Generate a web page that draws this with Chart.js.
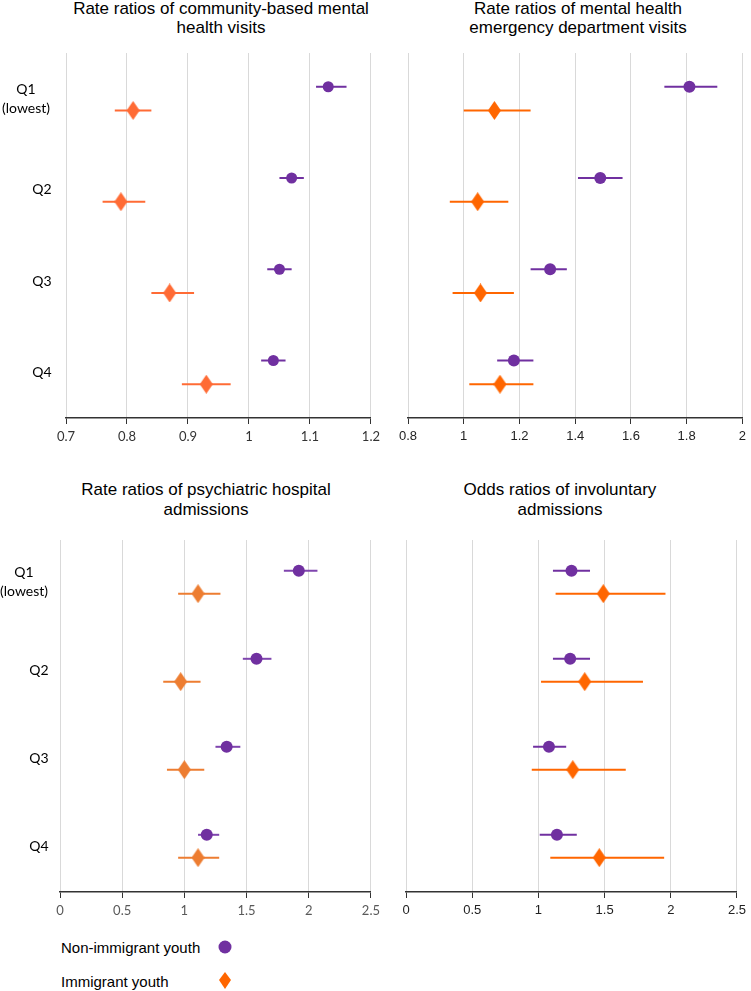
<!DOCTYPE html>
<html>
<head>
<meta charset="utf-8">
<script src="https://cdn.jsdelivr.net/npm/chart.js@4/dist/chart.umd.min.js"></script>
<style>
  body { margin: 0; background: #fff; width: 751px; height: 991px; position: relative; overflow: hidden; font-family: "Liberation Sans", Arial, sans-serif; }
  .box { position: absolute; }
  .title { position: absolute; width: 380px; text-align: center; color: #000; font-size: 17px; line-height: 19px; white-space: nowrap; }
  .legend { position: absolute; left: 61px; font-size: 15px; color: #000; }
</style>
</head>
<body>
<div class="title" style="left:31px; top:-1px;">Rate ratios of community-based mental<br>health visits</div>
<div class="title" style="left:388px; top:-1px;">Rate ratios of mental health<br>emergency department visits</div>
<div class="title" style="left:16px; top:480px; line-height:20px;">Rate ratios of psychiatric hospital<br>admissions</div>
<div class="title" style="left:370px; top:480px; line-height:20px;">Odds ratios of involuntary<br>admissions</div>

<div class="box" style="left:0; top:45px; width:385px; height:403px;"><canvas id="c1"></canvas></div>
<div class="box" style="left:390px; top:45px; width:361px; height:403px;"><canvas id="c2"></canvas></div>
<div class="box" style="left:0; top:532px; width:385px; height:390px;"><canvas id="c3"></canvas></div>
<div class="box" style="left:390px; top:532px; width:361px; height:390px;"><canvas id="c4"></canvas></div>

<div class="legend" style="top:939px;">Non-immigrant youth</div>
<div class="legend" style="top:973px;">Immigrant youth</div>
<svg class="box" style="left:210px; top:930px;" width="30" height="61">
  <circle cx="15" cy="17" r="6.5" fill="#7030A0"/>
  <polygon points="15,42 21,50 15,59 9,50" fill="#FF6600"/>
</svg>

<script>
// quintile labels
const categories = [['Q1', '(lowest)'], 'Q2', 'Q3', 'Q4'];

// community-based mental health visits
const cbNonImm = [1.13, 1.07, 1.05, 1.04];
const cbNonImmLo = [1.11, 1.05, 1.03, 1.02];
const cbNonImmHi = [1.16, 1.09, 1.07, 1.06];
const cbImm = [0.81, 0.79, 0.87, 0.93];
const cbImmLo = [0.78, 0.76, 0.84, 0.89];
const cbImmHi = [0.84, 0.83, 0.91, 0.97];

// mental health emergency department visits
const edNonImm = [1.81, 1.49, 1.31, 1.18];
const edNonImmLo = [1.72, 1.41, 1.24, 1.12];
const edNonImmHi = [1.91, 1.57, 1.37, 1.25];
const edImm = [1.11, 1.05, 1.06, 1.13];
const edImmLo = [1.00, 0.95, 0.96, 1.02];
const edImmHi = [1.24, 1.16, 1.18, 1.25];

// psychiatric hospital admissions
const hospNonImm = [1.92, 1.58, 1.34, 1.18];
const hospNonImmLo = [1.80, 1.47, 1.25, 1.11];
const hospNonImmHi = [2.07, 1.70, 1.45, 1.28];
const hospImm = [1.11, 0.97, 1.00, 1.11];
const hospImmLo = [0.95, 0.83, 0.86, 0.95];
const hospImmHi = [1.29, 1.13, 1.16, 1.28];

// involuntary admissions (odds ratios)
const invNonImm = [1.25, 1.24, 1.08, 1.14];
const invNonImmLo = [1.11, 1.11, 0.96, 1.01];
const invNonImmHi = [1.39, 1.39, 1.21, 1.29];
const invImm = [1.49, 1.35, 1.26, 1.46];
const invImmLo = [1.13, 1.02, 0.95, 1.09];
const invImmHi = [1.96, 1.79, 1.66, 1.95];

// x-axis ranges
const cbTicks = [0.7, 1.2, 0.1];
const edTicks = [0.8, 2, 0.2];
const hospTicks = [0, 2.5, 0.5];
const invTicks = [0, 2.5, 0.5];

const purple = '#7030A0';

// tall diamond marker
function makeDiamond(color) {
    const c = document.createElement('canvas');
    c.width = 13; c.height = 19;
    const g = c.getContext('2d');
    g.fillStyle = color;
    g.beginPath();
    g.moveTo(6.5, 0); g.lineTo(13, 9.5); g.lineTo(6.5, 19); g.lineTo(0, 9.5);
    g.closePath(); g.fill();
    return c;
}

// quintile names on the left, placed on the y scale's row centres
const categoryLabels = {
    id: 'categoryLabels',
    afterDraw(chart, args, o) {
        if (!o.show) return;
        const ctx = chart.ctx;
        const y = chart.scales.y;
        ctx.save();
        ctx.font = '14px Lato, sans-serif';
        ctx.fillStyle = '#000';
        ctx.textAlign = 'center';
        ctx.textBaseline = 'middle';
        categories.forEach((c, i) => {
            const py = y.getPixelForValue(i + 0.5);
            if (Array.isArray(c)) {
                ctx.fillText(c[0], o.multiX, py - 9.5);
                ctx.fillText(c[1], o.multiX, py + 9.5);
            } else {
                ctx.fillText(c, o.singleX, py);
            }
        });
        ctx.restore();
    }
};

function makePanel(id, est1, lo1, hi1, est2, lo2, hi2, range, opt) {
    const gap = opt.gap;
    const datasets = [];
    datasets.push({
        data: est1.map((v, i) => ({ x: v, y: i + 0.5 - gap })),
        pointStyle: 'circle', pointRadius: opt.r, backgroundColor: purple, borderWidth: 0, order: 0
    });
    datasets.push({
        data: est2.map((v, i) => ({ x: v, y: i + 0.5 + gap })),
        pointStyle: makeDiamond(opt.orange), pointRadius: 8, backgroundColor: opt.orange, borderWidth: 0, order: 0
    });
    // confidence interval segments
    for (let i = 0; i < 4; i++) {
        datasets.push({
            data: [{ x: lo1[i], y: i + 0.5 - gap }, { x: hi1[i], y: i + 0.5 - gap }],
            showLine: true, pointRadius: 0, borderColor: opt.purpleLine, borderWidth: 2, order: 1
        });
        datasets.push({
            data: [{ x: lo2[i], y: i + 0.5 + gap }, { x: hi2[i], y: i + 0.5 + gap }],
            showLine: true, pointRadius: 0, borderColor: opt.orange, borderWidth: 2, order: 1
        });
    }

    new Chart(document.getElementById(id), {
        type: 'scatter',
        data: { datasets },
        plugins: [categoryLabels],
        options: {
            responsive: true,
            maintainAspectRatio: false,
            animation: false,
            layout: { padding: { top: 5, right: opt.padRight, left: 0, bottom: 0 } },
            plugins: {
                legend: { display: false },
                tooltip: { enabled: false },
                categoryLabels: { show: opt.showCats, multiX: opt.multiX, singleX: opt.singleX }
            },
            scales: {
                x: {
                    type: 'linear',
                    min: range[0], max: range[1],
                    ticks: {
                        stepSize: range[2],
                        color: opt.tickColor,
                        padding: 5,
                        font: { family: opt.tickFont, size: 13 },
                        callback: v => +v.toFixed(2)
                    },
                    grid: { color: '#d9d9d9', lineWidth: 1, tickColor: '#333', tickLength: 6 },
                    border: { color: '#333', width: 1.5 },
                    afterFit: s => { s.height = 30; }
                },
                y: {
                    type: 'linear',
                    reverse: true,
                    min: opt.yMin, max: opt.yMin + 4,
                    ticks: { display: false },
                    grid: { display: false },
                    border: { display: false },
                    afterFit: s => { s.width = opt.yWidth; s.paddingTop = 0; s.paddingBottom = 0; }
                }
            }
        }
    });
}

makePanel('c1', cbNonImm, cbNonImmLo, cbNonImmHi, cbImm, cbImmLo, cbImmHi, cbTicks,
    { gap: 0.13, r: 5.5, orange: '#FF6B35', purpleLine: purple, yMin: 0, yWidth: 66, padRight: 12,
      showCats: true, multiX: 26, singleX: 42, tickColor: '#333', tickFont: 'Lato, sans-serif' });
makePanel('c2', edNonImm, edNonImmLo, edNonImmHi, edImm, edImmLo, edImmHi, edTicks,
    { gap: 0.13, r: 6, orange: '#FF6600', purpleLine: purple, yMin: 0, yWidth: 18, padRight: 8,
      showCats: false, tickColor: '#222', tickFont: '"Liberation Sans", Arial, sans-serif' });
makePanel('c3', hospNonImm, hospNonImmLo, hospNonImmHi, hospImm, hospImmLo, hospImmHi, hospTicks,
    { gap: 0.13, r: 6, orange: '#ED7D31', purpleLine: '#7F45AE', yMin: 0.02, yWidth: 60, padRight: 13,
      showCats: true, multiX: 24, singleX: 39, tickColor: '#595959', tickFont: 'Lato, sans-serif' });
makePanel('c4', invNonImm, invNonImmLo, invNonImmHi, invImm, invImmLo, invImmHi, invTicks,
    { gap: 0.13, r: 6, orange: '#FF6600', purpleLine: purple, yMin: 0.02, yWidth: 16, padRight: 9,
      showCats: false, tickColor: '#222', tickFont: '"Liberation Sans", Arial, sans-serif' });
</script>
</body>
</html>
